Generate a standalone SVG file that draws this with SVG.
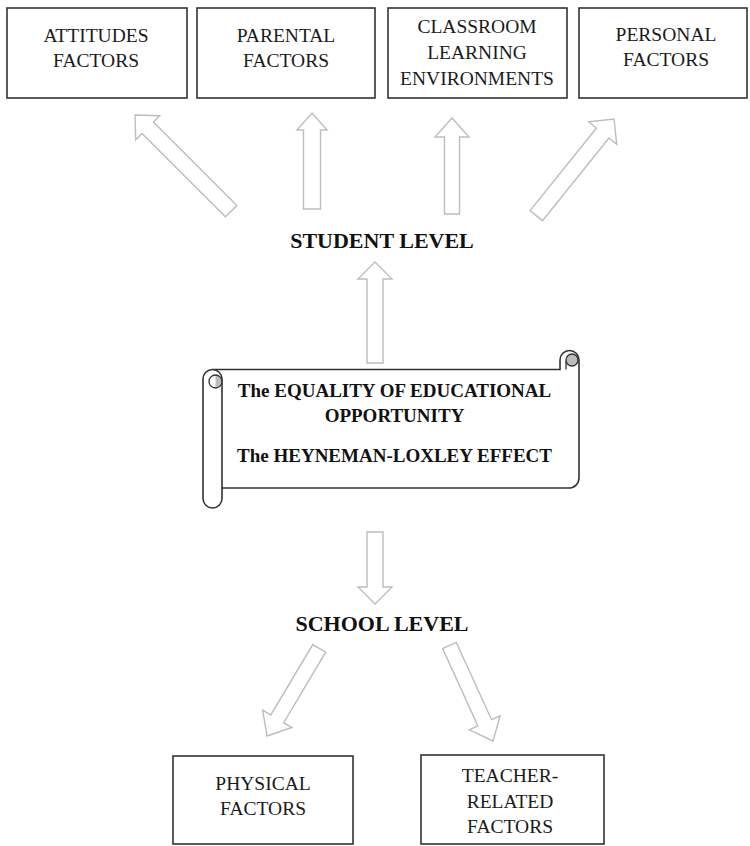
<svg xmlns="http://www.w3.org/2000/svg" width="750" height="846" viewBox="0 0 750 846">
<style>
.box{fill:#fff;stroke:#333;stroke-width:1.6}
.t{font-family:"Liberation Serif","Times New Roman",serif;font-size:19.5px;fill:#1a1a1a;text-anchor:middle}
.b{font-family:"Liberation Serif","Times New Roman",serif;font-weight:bold;fill:#111;text-anchor:middle}
.arr{fill:#fff;stroke:#bdbdbd;stroke-width:1.4;stroke-linejoin:miter}
.scroll{fill:#fff;stroke:#333;stroke-width:1.6}
</style>
<rect width="750" height="846" fill="#fff"/>

<g id="attitudes">
<rect class="box" x="7" y="8" width="180" height="90"/>
<text class="t" x="96" y="42">ATTITUDES</text>
<text class="t" x="96" y="67">FACTORS</text>
</g>
<g id="parental">
<rect class="box" x="197" y="8" width="178" height="90"/>
<text class="t" x="286" y="42">PARENTAL</text>
<text class="t" x="286" y="67">FACTORS</text>
</g>
<g id="classroom">
<rect class="box" x="388" y="8" width="179" height="90"/>
<text class="t" x="477" y="33">CLASSROOM</text>
<text class="t" x="477" y="59">LEARNING</text>
<text class="t" x="477" y="85">ENVIRONMENTS</text>
</g>
<g id="personal">
<rect class="box" x="579" y="8" width="168" height="90"/>
<text class="t" x="666" y="41">PERSONAL</text>
<text class="t" x="666" y="66">FACTORS</text>
</g>

<g id="connectors">
<polygon class="arr" transform="translate(135,115) rotate(-45)" points="0,0 17,18 8,18 8,136 -8,136 -8,18 -17,18"/>
<polygon class="arr" transform="translate(312,113)" points="0,0 15,17 8.5,17 8.5,96 -8.5,96 -8.5,17 -15,17"/>
<polygon class="arr" transform="translate(452,118)" points="0,0 17,19 7.5,19 7.5,96 -7.5,96 -7.5,19 -17,19"/>
<polygon class="arr" transform="translate(614,119) rotate(38.8)" points="0,0 18,18 8,18 8,124 -8,124 -8,18 -18,18"/>
<polygon class="arr" transform="translate(375,262)" points="0,0 17,17 8,17 8,101 -8,101 -8,17 -17,17"/>
<polygon class="arr" transform="translate(375,604) rotate(180)" points="0,0 17,17 8,17 8,72 -8,72 -8,17 -17,17"/>
<polygon class="arr" transform="translate(267,736) rotate(-149.2)" points="0,0 17,20 7.5,20 7.5,102 -7.5,102 -7.5,20 -17,20"/>
<polygon class="arr" transform="translate(493,741) rotate(155.5)" points="0,0 17,20 7.5,20 7.5,105 -7.5,105 -7.5,20 -17,20"/>
</g>

<g id="student-level">
<text class="b" x="382" y="248" font-size="22">STUDENT LEVEL</text>
</g>

<g id="scroll">
<path class="scroll" d="M 203,379 A 9.5,9.5 0 0 1 212.5,369.5 L 560,369.5 L 560,360 A 9.5,9.5 0 0 1 579,360 L 579,478 A 10,10 0 0 1 569,488 L 222,488 L 222,498.5 A 9.5,9.5 0 0 1 203,498.5 Z"/>
<path class="scroll" d="M 212.5,369.5 A 9.5,9.5 0 0 1 222,379 L 222,488"/>
<path d="M 215.5,375 A 6.5,6.5 0 0 1 215.5,388 Z" fill="#bdbdbd"/>
<circle cx="215.5" cy="381.5" r="6.5" fill="none" stroke="#333" stroke-width="1.3"/>
<circle cx="572" cy="360" r="6" fill="#bdbdbd" stroke="#333" stroke-width="1.3"/>
<path d="M 566,361 L 566,369.5" fill="none" stroke="#333" stroke-width="1.3"/>
<text class="b" x="394.5" y="397" font-size="19">The EQUALITY OF EDUCATIONAL</text>
<text class="b" x="394.5" y="422" font-size="19">OPPORTUNITY</text>
<text class="b" x="394.5" y="462" font-size="19">The HEYNEMAN-LOXLEY EFFECT</text>
</g>

<g id="school-level">
<text class="b" x="382" y="631" font-size="22">SCHOOL LEVEL</text>
</g>

<g id="physical">
<rect class="box" x="173" y="756" width="180" height="88"/>
<text class="t" x="263" y="790">PHYSICAL</text>
<text class="t" x="263" y="815">FACTORS</text>
</g>
<g id="teacher">
<rect class="box" x="421" y="755" width="183" height="89"/>
<text class="t" x="510" y="782">TEACHER-</text>
<text class="t" x="510" y="808">RELATED</text>
<text class="t" x="510" y="833">FACTORS</text>
</g>
</svg>
